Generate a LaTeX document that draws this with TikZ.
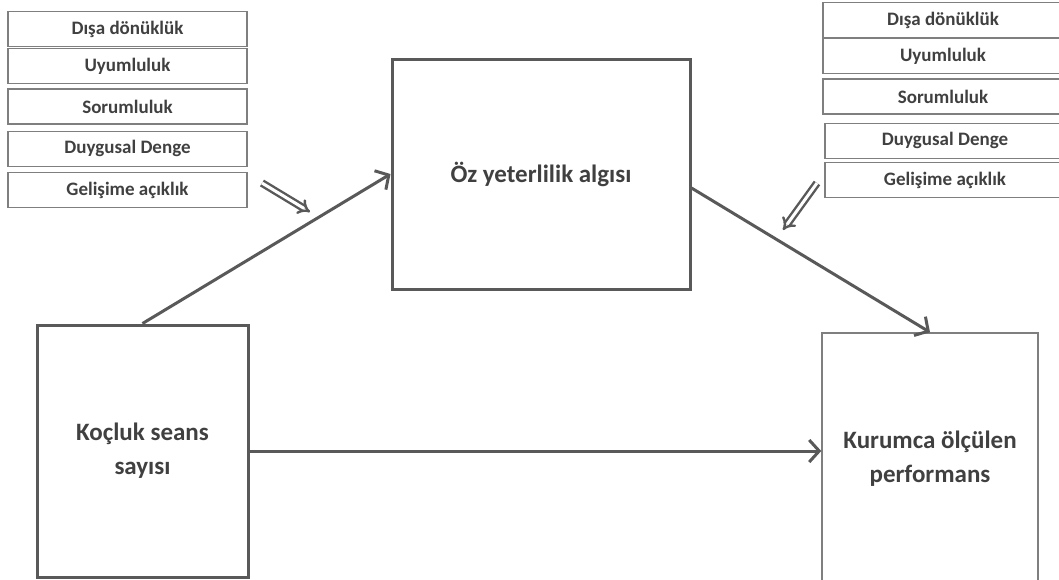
\documentclass[tikz,border=0pt]{standalone}
\usepackage{fontspec}
\setmainfont{Carlito}
\usetikzlibrary{arrows.meta, positioning}
\definecolor{linegray}{HTML}{595959}
\definecolor{boxgray}{HTML}{7F7F7F}
\definecolor{textgray}{HTML}{404040}

\begin{document}
\begin{tikzpicture}[
  x=1pt, y=-1pt,
  font=\bfseries,
  every node/.style={align=center, text=textgray},
  trait/.style={draw=boxgray, line width=1.3pt, inner sep=0pt, minimum height=35pt, font=\bfseries\fontsize{19}{22}\selectfont},
  traitL/.style={trait, minimum width=239pt},
  traitR/.style={trait, minimum width=240pt},
  bigbox/.style={draw=linegray, line width=3pt, inner sep=0pt, font=\bfseries\fontsize{25}{34}\selectfont},
  link/.style={draw=linegray, line width=3pt, -{Straight Barb[length=10pt, width=22pt, line width=3pt]}},
  hollow/.style={draw=linegray, line width=2.4pt, double=white, double distance=3pt, -{Implies[length=10pt]}},
]
\useasboundingbox (0,0) rectangle (1059,579);

% personality traits, left
\node [traitL] (disaL) at (127.5,29) {Dışa dönüklük};
\node [traitL] (uyumL) [below=1pt of disaL] {Uyumluluk};
\node [traitL] (soruL) [below=4pt of uyumL] {Sorumluluk};
\node [traitL] (duygL) [below=6pt of soruL] {Duygusal Denge};
\node [traitL] (geliL) [below=5pt of duygL] {Gelişime açıklık};

% personality traits, right (running off the page edge)
\node [traitR] (disaR) at (943,20) {Dışa dönüklük};
\node [traitR] (uyumR) [below=0pt of disaR] {Uyumluluk};
\node [traitR] (soruR) [below=4pt of uyumR] {Sorumluluk};
\node [traitR, xshift=2pt] (duygR) [below=8pt of soruR] {Duygusal Denge};
\node [traitR] (geliR) [below=3pt of duygR] {Gelişime açıklık};

% main variables
\node [bigbox, minimum width=298pt, minimum height=230pt] (oz) at (541,174) {Öz yeterlilik algısı};
\node [bigbox, minimum width=211pt, minimum height=252pt] (koc) at (142.5,451) {Koçluk seans \\ sayısı};
\node [bigbox, draw=boxgray, line width=1.5pt, minimum width=216pt, minimum height=252pt] (kurum) at (930,459) {Kurumca ölçülen \\ performans};

\draw [link] (koc.north) -- (oz.west);
\draw [link] ([yshift=-14pt]oz.east) -- (kurum.north);
\draw [link] (koc.east) -- (koc.east -| kurum.west);

% moderation arrows
\coordinate (modL) at (262,183);
\coordinate (modR) at (817,183);
\draw [hollow] (modL) -- ++(48,29);
\draw [hollow] (modR) -- ++(-34,47);

\end{tikzpicture}
\end{document}
